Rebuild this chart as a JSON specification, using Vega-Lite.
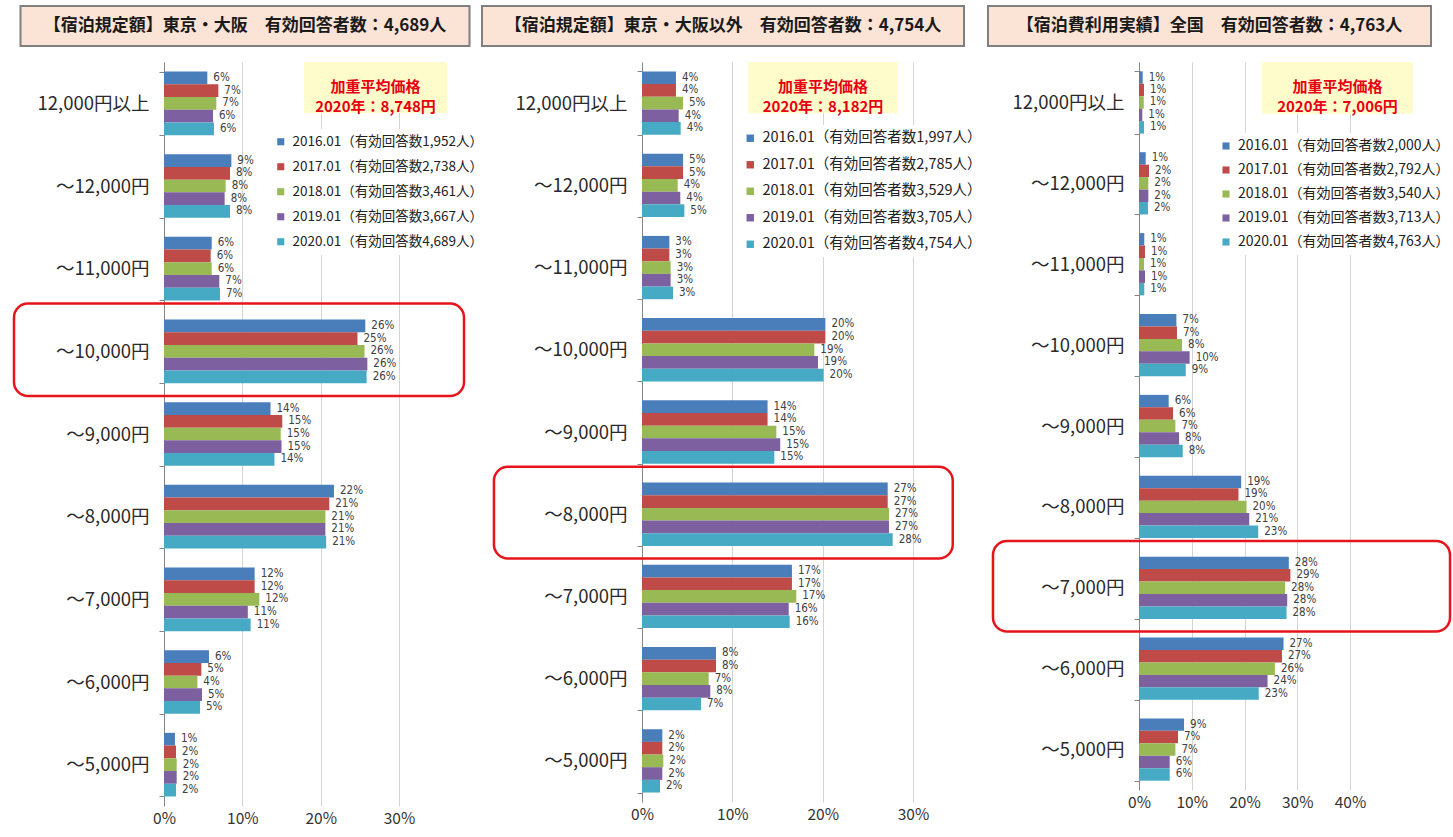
{
  "$schema": "https://vega.github.io/schema/vega-lite/v6.json",
  "background": "white",
  "padding": {"left": 8, "top": 5, "right": 0, "bottom": 0},
  "config": {
    "font": "Noto Sans CJK JP",
    "view": {"stroke": null}
  },
  "spacing": 6,
  "resolve": {"scale": {"color": "independent", "yOffset": "independent"}, "legend": {"color": "independent"}},
  "vconcat": [
    {
      "spacing": 10.5,
      "hconcat": [
        {"width": 1, "height": 1, "data": {"values": [{}]}, "mark": {"type": "point", "size": 0, "opacity": 0}},
        {
          "width": 449, "height": 40,
          "view": {"fill": "#fbe4d5", "stroke": "#7f7f7f", "strokeWidth": 2},
          "data": {"values": [{"t": "【宿泊規定額】東京・大阪　有効回答者数：4,689人"}]},
          "mark": {"type": "text", "fontSize": 17, "fontWeight": "bold", "color": "#1a1a1a", "baseline": "middle", "align": "center"},
          "encoding": {"text": {"field": "t", "type": "nominal"}}
        },
        {
          "width": 482, "height": 40,
          "view": {"fill": "#fbe4d5", "stroke": "#7f7f7f", "strokeWidth": 2},
          "data": {"values": [{"t": "【宿泊規定額】東京・大阪以外　有効回答者数：4,754人"}]},
          "mark": {"type": "text", "fontSize": 17, "fontWeight": "bold", "color": "#1a1a1a", "baseline": "middle", "align": "center"},
          "encoding": {"text": {"field": "t", "type": "nominal"}}
        },
        {"width": 1, "height": 1, "data": {"values": [{}]}, "mark": {"type": "point", "size": 0, "opacity": 0}},
        {
          "width": 443, "height": 40,
          "view": {"fill": "#fbe4d5", "stroke": "#7f7f7f", "strokeWidth": 2},
          "data": {"values": [{"t": "【宿泊費利用実績】全国　有効回答者数：4,763人"}]},
          "mark": {"type": "text", "fontSize": 17, "fontWeight": "bold", "color": "#1a1a1a", "baseline": "middle", "align": "center"},
          "encoding": {"text": {"field": "t", "type": "nominal"}}
        }
      ]
    },
    {
      "spacing": 3,
      "resolve": {"scale": {"color": "independent", "yOffset": "independent"}, "legend": {"color": "independent"}},
      "hconcat": [
        {"width": 1, "height": 1, "data": {"values": [{}]}, "mark": {"type": "point", "size": 0, "opacity": 0}},
        {
          "width": 235, "height": 744,
          "view": {"stroke": null},
          "data": {"values": [
            {"cat": "12,000円以上", "2016": 0.0553, "2017": 0.0694, "2018": 0.0668, "2019": 0.0626, "2020": 0.0638},
            {"cat": "～12,000円", "2016": 0.086, "2017": 0.0843, "2018": 0.0787, "2019": 0.0774, "2020": 0.0843},
            {"cat": "～11,000円", "2016": 0.0609, "2017": 0.0596, "2018": 0.0609, "2019": 0.0706, "2020": 0.0715},
            {"cat": "～10,000円", "2016": 0.257, "2017": 0.247, "2018": 0.256, "2019": 0.2596, "2020": 0.2587},
            {"cat": "～9,000円", "2016": 0.136, "2017": 0.151, "2018": 0.149, "2019": 0.150, "2020": 0.141},
            {"cat": "～8,000円", "2016": 0.217, "2017": 0.211, "2018": 0.206, "2019": 0.206, "2020": 0.207},
            {"cat": "～7,000円", "2016": 0.1157, "2017": 0.1157, "2018": 0.1217, "2019": 0.107, "2020": 0.1106},
            {"cat": "～6,000円", "2016": 0.0574, "2017": 0.0477, "2018": 0.0426, "2019": 0.0485, "2020": 0.046},
            {"cat": "～5,000円", "2016": 0.014, "2017": 0.0153, "2018": 0.0162, "2019": 0.0162, "2020": 0.0153}
          ]},
          "transform": [
            {"fold": ["2016", "2017", "2018", "2019", "2020"], "as": ["yr", "v"]},
            {"lookup": "yr", "from": {"data": {"values": [
              {"yr": "2016", "s": "2016.01（有効回答数1,952人）"},
              {"yr": "2017", "s": "2017.01（有効回答数2,738人）"},
              {"yr": "2018", "s": "2018.01（有効回答数3,461人）"},
              {"yr": "2019", "s": "2019.01（有効回答数3,667人）"},
              {"yr": "2020", "s": "2020.01（有効回答数4,689人）"}
            ]}, "key": "yr", "fields": ["s"]}}
          ],
          "layer": [
            {
              "mark": {"type": "bar"},
              "encoding": {
                "y": {"field": "cat", "type": "nominal", "title": null,
                  "scale": {"domain": ["12,000円以上", "～12,000円", "～11,000円", "～10,000円", "～9,000円", "～8,000円", "～7,000円", "～6,000円", "～5,000円"], "paddingInner": 0.23, "paddingOuter": 0.115},
                  "axis": {"labelFontSize": 18.5, "labelColor": "#2a2a2a", "tickBand": "extent", "tickSize": 5, "tickColor": "#868686", "domainColor": "#868686", "labelPadding": 10, "grid": false}},
                "yOffset": {"field": "yr", "type": "nominal", "scale": {"paddingInner": 0, "paddingOuter": 0}},
                "x": {"field": "v", "type": "quantitative", "title": null,
                  "scale": {"domain": [0, 0.3], "nice": false},
                  "axis": {"format": ".0%", "values": [0, 0.1, 0.2, 0.3], "grid": true, "gridColor": "#d4d4d4", "domain": false, "ticks": false, "tickSize": 0, "labelPadding": 5, "labelFontSize": 15.5, "labelColor": "#333333", "labelFlush": false}},
                "color": {"field": "s", "type": "nominal",
                  "scale": {"range": ["#4a7ebb", "#be4b48", "#98b954", "#7d60a0", "#46aac5"]},
                  "legend": {"title": null, "orient": "none", "legendX": 104, "legendY": 67, "fillColor": "white", "padding": 6, "labelFontSize": 13.5, "labelLimit": 400, "symbolType": "square", "symbolSize": 50, "rowPadding": 10, "labelOffset": 5, "labelColor": "#222222", "symbolStrokeWidth": 0}}
              }
            },
            {
              "mark": {"type": "text", "align": "left", "baseline": "middle", "dx": 6, "fontSize": 11.5, "font": "Liberation Sans Narrow, DejaVu Sans Condensed, sans-serif", "color": "#404040"},
              "encoding": {
                "y": {"field": "cat", "type": "nominal", "title": null},
                "yOffset": {"field": "yr", "type": "nominal"},
                "x": {"field": "v", "type": "quantitative", "title": null},
                "text": {"field": "v", "type": "quantitative", "format": ".0%"}
              }
            },
            {
              "data": {"values": [{}]},
              "mark": {"type": "rect", "fill": "#fefccb"},
              "encoding": {
                "x": {"datum": 0.1787}, "x2": {"datum": 0.3613},
                "y": {"datum": "12,000円以上", "bandPosition": -0.15}, "y2": {"datum": "12,000円以上", "bandPosition": 0.65}
              }
            },
            {
              "data": {"values": [{"t": "加重平均価格\n2020年：8,748円"}]},
              "mark": {"type": "text", "lineBreak": "\n", "color": "#e60012", "fontSize": 15, "fontWeight": "bold", "align": "center", "baseline": "middle", "lineHeight": 20},
              "encoding": {
                "x": {"datum": 0.27},
                "y": {"datum": "12,000円以上", "bandPosition": 0.25},
                "text": {"field": "t", "type": "nominal"}
              }
            },
            {
              "data": {"values": [{}]},
              "mark": {"type": "rect", "fill": "transparent", "stroke": "#e8141b", "strokeWidth": 2.5, "cornerRadius": 14},
              "encoding": {
                "x": {"datum": -0.1915}, "x2": {"datum": 0.383},
                "y": {"datum": "～10,000円", "bandPosition": -0.25}, "y2": {"datum": "～10,000円", "bandPosition": 1.2}
              }
            }
          ]
        },
        {
          "width": 271, "height": 740,
          "view": {"stroke": null},
          "data": {"values": [
            {"cat": "12,000円以上", "2016": 0.0376, "2017": 0.0376, "2018": 0.0454, "2019": 0.0406, "2020": 0.0428},
            {"cat": "～12,000円", "2016": 0.0455, "2017": 0.0455, "2018": 0.0395, "2019": 0.0424, "2020": 0.0469},
            {"cat": "～11,000円", "2016": 0.0303, "2017": 0.0303, "2018": 0.0317, "2019": 0.0317, "2020": 0.0343},
            {"cat": "～10,000円", "2016": 0.203, "2017": 0.203, "2018": 0.1908, "2019": 0.1948, "2020": 0.201},
            {"cat": "～9,000円", "2016": 0.139, "2017": 0.139, "2018": 0.1487, "2019": 0.153, "2020": 0.1465},
            {"cat": "～8,000円", "2016": 0.272, "2017": 0.272, "2018": 0.2734, "2019": 0.2734, "2020": 0.2775},
            {"cat": "～7,000円", "2016": 0.166, "2017": 0.166, "2018": 0.1708, "2019": 0.1624, "2020": 0.1635},
            {"cat": "～6,000円", "2016": 0.0819, "2017": 0.0819, "2018": 0.0738, "2019": 0.0756, "2020": 0.0653},
            {"cat": "～5,000円", "2016": 0.0225, "2017": 0.0225, "2018": 0.0236, "2019": 0.0225, "2020": 0.0199}
          ]},
          "transform": [
            {"fold": ["2016", "2017", "2018", "2019", "2020"], "as": ["yr", "v"]},
            {"lookup": "yr", "from": {"data": {"values": [
              {"yr": "2016", "s": "2016.01（有効回答者数1,997人）"},
              {"yr": "2017", "s": "2017.01（有効回答者数2,785人）"},
              {"yr": "2018", "s": "2018.01（有効回答者数3,529人）"},
              {"yr": "2019", "s": "2019.01（有効回答者数3,705人）"},
              {"yr": "2020", "s": "2020.01（有効回答者数4,754人）"}
            ]}, "key": "yr", "fields": ["s"]}}
          ],
          "layer": [
            {
              "mark": {"type": "bar"},
              "encoding": {
                "y": {"field": "cat", "type": "nominal", "title": null,
                  "scale": {"domain": ["12,000円以上", "～12,000円", "～11,000円", "～10,000円", "～9,000円", "～8,000円", "～7,000円", "～6,000円", "～5,000円"], "paddingInner": 0.23, "paddingOuter": 0.115},
                  "axis": {"labelFontSize": 18.5, "labelColor": "#2a2a2a", "tickBand": "extent", "tickSize": 5, "tickColor": "#868686", "domainColor": "#868686", "labelPadding": 10, "grid": false}},
                "yOffset": {"field": "yr", "type": "nominal", "scale": {"paddingInner": 0, "paddingOuter": 0}},
                "x": {"field": "v", "type": "quantitative", "title": null,
                  "scale": {"domain": [0, 0.3], "nice": false},
                  "axis": {"format": ".0%", "values": [0, 0.1, 0.2, 0.3], "grid": true, "gridColor": "#d4d4d4", "domain": false, "ticks": false, "tickSize": 0, "labelPadding": 5, "labelFontSize": 15.5, "labelColor": "#333333", "labelFlush": false}},
                "color": {"field": "s", "type": "nominal",
                  "scale": {"range": ["#4a7ebb", "#be4b48", "#98b954", "#7d60a0", "#46aac5"]},
                  "legend": {"title": null, "orient": "none", "legendX": 95, "legendY": 63, "fillColor": "white", "padding": 6, "labelFontSize": 14.5, "labelLimit": 400, "symbolType": "square", "symbolSize": 55, "rowPadding": 11.5, "labelOffset": 5, "labelColor": "#222222", "symbolStrokeWidth": 0}}
              }
            },
            {
              "mark": {"type": "text", "align": "left", "baseline": "middle", "dx": 6, "fontSize": 11.5, "font": "Liberation Sans Narrow, DejaVu Sans Condensed, sans-serif", "color": "#404040"},
              "encoding": {
                "y": {"field": "cat", "type": "nominal", "title": null},
                "yOffset": {"field": "yr", "type": "nominal"},
                "x": {"field": "v", "type": "quantitative", "title": null},
                "text": {"field": "v", "type": "quantitative", "format": ".0%"}
              }
            },
            {
              "data": {"values": [{}]},
              "mark": {"type": "rect", "fill": "#fefccb"},
              "encoding": {
                "x": {"datum": 0.1173}, "x2": {"datum": 0.2834},
                "y": {"datum": "12,000円以上", "bandPosition": -0.15}, "y2": {"datum": "12,000円以上", "bandPosition": 0.66}
              }
            },
            {
              "data": {"values": [{"t": "加重平均価格\n2020年：8,182円"}]},
              "mark": {"type": "text", "lineBreak": "\n", "color": "#e60012", "fontSize": 15, "fontWeight": "bold", "align": "center", "baseline": "middle", "lineHeight": 20},
              "encoding": {
                "x": {"datum": 0.2004},
                "y": {"datum": "12,000円以上", "bandPosition": 0.25},
                "text": {"field": "t", "type": "nominal"}
              }
            },
            {
              "data": {"values": [{}]},
              "mark": {"type": "rect", "fill": "transparent", "stroke": "#e8141b", "strokeWidth": 2.5, "cornerRadius": 14},
              "encoding": {
                "x": {"datum": -0.1639}, "x2": {"datum": 0.344},
                "y": {"datum": "～8,000円", "bandPosition": -0.25}, "y2": {"datum": "～8,000円", "bandPosition": 1.2}
              }
            }
          ]
        },
        {
          "width": 211, "height": 728,
          "view": {"stroke": null},
          "data": {"values": [
            {"cat": "12,000円以上", "2016": 0.007, "2017": 0.0095, "2018": 0.009, "2019": 0.0063, "2020": 0.0095},
            {"cat": "～12,000円", "2016": 0.0127, "2017": 0.019, "2018": 0.0177, "2019": 0.0177, "2020": 0.017},
            {"cat": "～11,000円", "2016": 0.010, "2017": 0.0114, "2018": 0.0095, "2019": 0.0114, "2020": 0.010},
            {"cat": "～10,000円", "2016": 0.0709, "2017": 0.072, "2018": 0.0816, "2019": 0.096, "2020": 0.0886},
            {"cat": "～9,000円", "2016": 0.0563, "2017": 0.0646, "2018": 0.069, "2019": 0.076, "2020": 0.0829},
            {"cat": "～8,000円", "2016": 0.1937, "2017": 0.1886, "2018": 0.2038, "2019": 0.209, "2020": 0.226},
            {"cat": "～7,000円", "2016": 0.284, "2017": 0.287, "2018": 0.277, "2019": 0.281, "2020": 0.2797},
            {"cat": "～6,000円", "2016": 0.274, "2017": 0.271, "2018": 0.2576, "2019": 0.2437, "2020": 0.227},
            {"cat": "～5,000円", "2016": 0.0854, "2017": 0.074, "2018": 0.069, "2019": 0.0582, "2020": 0.0582}
          ]},
          "transform": [
            {"fold": ["2016", "2017", "2018", "2019", "2020"], "as": ["yr", "v"]},
            {"lookup": "yr", "from": {"data": {"values": [
              {"yr": "2016", "s": "2016.01（有効回答者数2,000人）"},
              {"yr": "2017", "s": "2017.01（有効回答者数2,792人）"},
              {"yr": "2018", "s": "2018.01（有効回答者数3,540人）"},
              {"yr": "2019", "s": "2019.01（有効回答者数3,713人）"},
              {"yr": "2020", "s": "2020.01（有効回答者数4,763人）"}
            ]}, "key": "yr", "fields": ["s"]}}
          ],
          "layer": [
            {
              "mark": {"type": "bar"},
              "encoding": {
                "y": {"field": "cat", "type": "nominal", "title": null,
                  "scale": {"domain": ["12,000円以上", "～12,000円", "～11,000円", "～10,000円", "～9,000円", "～8,000円", "～7,000円", "～6,000円", "～5,000円"], "paddingInner": 0.23, "paddingOuter": 0.115},
                  "axis": {"labelFontSize": 18.5, "labelColor": "#2a2a2a", "tickBand": "extent", "tickSize": 5, "tickColor": "#868686", "domainColor": "#868686", "labelPadding": 10, "grid": false}},
                "yOffset": {"field": "yr", "type": "nominal", "scale": {"paddingInner": 0, "paddingOuter": 0}},
                "x": {"field": "v", "type": "quantitative", "title": null,
                  "scale": {"domain": [0, 0.4], "nice": false},
                  "axis": {"format": ".0%", "values": [0, 0.1, 0.2, 0.3, 0.4], "grid": true, "gridColor": "#d4d4d4", "domain": false, "ticks": false, "tickSize": 0, "labelPadding": 5, "labelFontSize": 15.5, "labelColor": "#333333", "labelFlush": false}},
                "color": {"field": "s", "type": "nominal",
                  "scale": {"range": ["#4a7ebb", "#be4b48", "#98b954", "#7d60a0", "#46aac5"]},
                  "legend": {"title": null, "orient": "none", "legendX": 74, "legendY": 71, "fillColor": "white", "padding": 6, "labelFontSize": 14, "labelLimit": 400, "symbolType": "square", "symbolSize": 50, "rowPadding": 10, "labelOffset": 5, "labelColor": "#222222", "symbolStrokeWidth": 0}}
              }
            },
            {
              "mark": {"type": "text", "align": "left", "baseline": "middle", "dx": 6, "fontSize": 11.5, "font": "Liberation Sans Narrow, DejaVu Sans Condensed, sans-serif", "color": "#404040"},
              "encoding": {
                "y": {"field": "cat", "type": "nominal", "title": null},
                "yOffset": {"field": "yr", "type": "nominal"},
                "x": {"field": "v", "type": "quantitative", "title": null},
                "text": {"field": "v", "type": "quantitative", "format": ".0%"}
              }
            },
            {
              "data": {"values": [{}]},
              "mark": {"type": "rect", "fill": "#fefccb"},
              "encoding": {
                "x": {"datum": 0.2332}, "x2": {"datum": 0.5194},
                "y": {"datum": "12,000円以上", "bandPosition": -0.15}, "y2": {"datum": "12,000円以上", "bandPosition": 0.68}
              }
            },
            {
              "data": {"values": [{"t": "加重平均価格\n2020年：7,006円"}]},
              "mark": {"type": "text", "lineBreak": "\n", "color": "#e60012", "fontSize": 15, "fontWeight": "bold", "align": "center", "baseline": "middle", "lineHeight": 20},
              "encoding": {
                "x": {"datum": 0.3763},
                "y": {"datum": "12,000円以上", "bandPosition": 0.26},
                "text": {"field": "t", "type": "nominal"}
              }
            },
            {
              "data": {"values": [{}]},
              "mark": {"type": "rect", "fill": "transparent", "stroke": "#e8141b", "strokeWidth": 2.5, "cornerRadius": 14},
              "encoding": {
                "x": {"datum": -0.2768}, "x2": {"datum": 0.5896},
                "y": {"datum": "～7,000円", "bandPosition": -0.25}, "y2": {"datum": "～7,000円", "bandPosition": 1.2}
              }
            }
          ]
        }
      ]
    }
  ]
}
